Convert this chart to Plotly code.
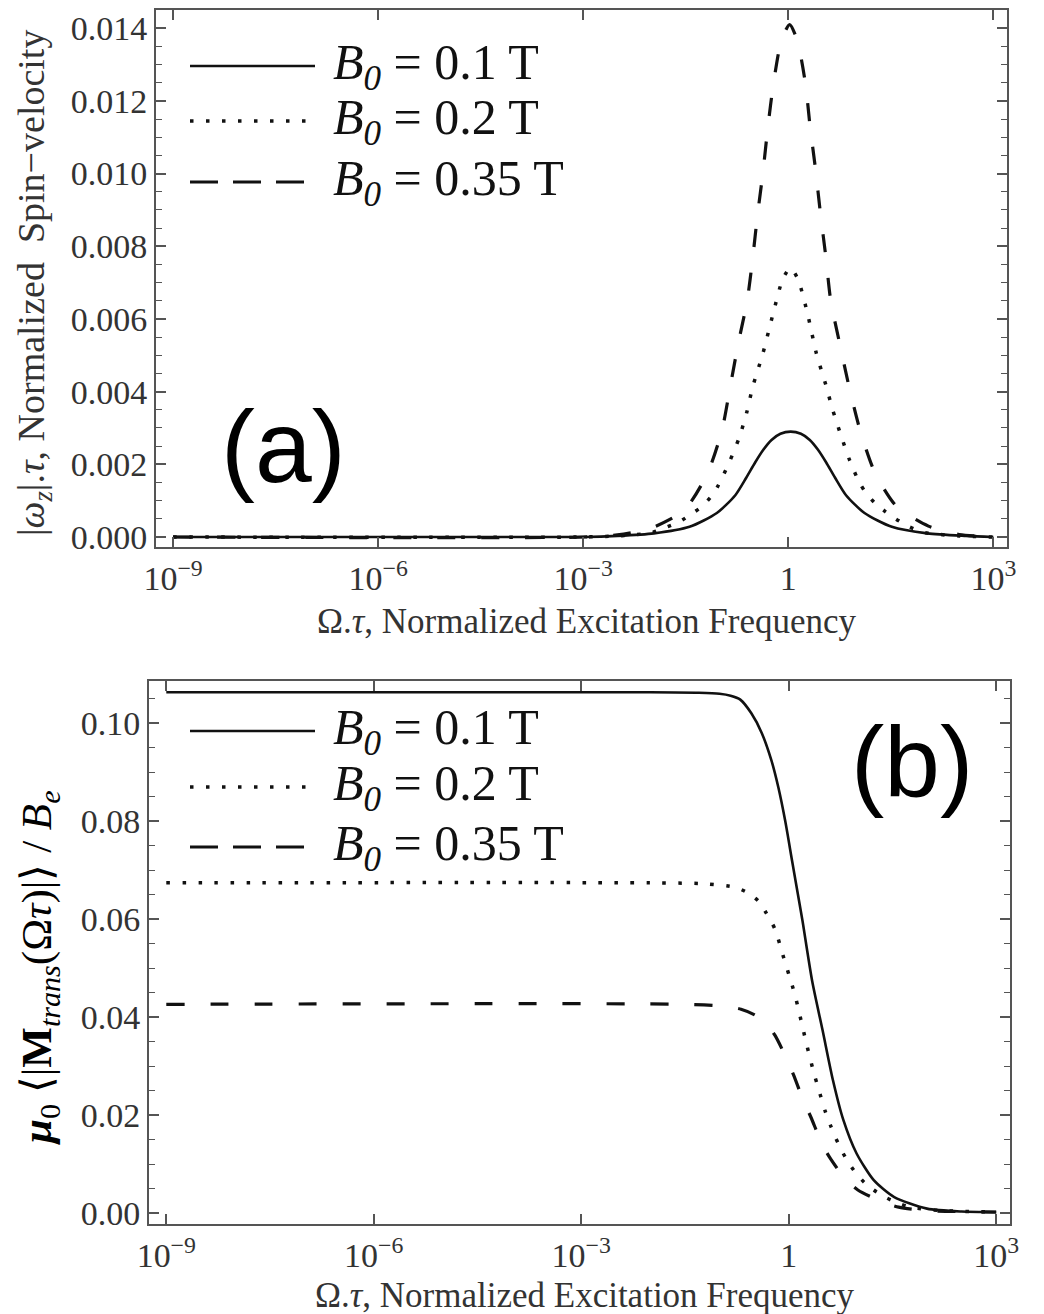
import plotly.graph_objects as go

# ---------------- data ----------------
# Panel (a): |omega_z|.tau vs Omega.tau  (x given as log10(Omega.tau))
a_solid_logx = [-9, -3, -2.5, -1.965, -1.445, -1.045, -0.775, -0.615, -0.485, -0.365, -0.245, -0.115, 0.035, 0.185, 0.315, 0.435, 0.555, 0.685, 0.845, 1.115, 1.515, 2.035, 2.6, 3]
a_solid_y = [0, 0, 0.00003, 0.0001, 0.00028, 0.00066, 0.00115, 0.00163, 0.00205, 0.0024, 0.00267, 0.00284, 0.0029, 0.00284, 0.00267, 0.0024, 0.00205, 0.00163, 0.00115, 0.00066, 0.00028, 0.0001, 0.00003, 0]

a_dot_logx = [-9, -3, -2.5, -2.0, -1.77, -1.59, -1.42, -1.27, -1.13, -1.03, -0.95, -0.86, -0.72, -0.61, -0.52, -0.37, -0.22, -0.08, 0.03, 0.14, 0.28, 0.41, 0.55, 0.65, 0.77, 0.9, 1.04, 1.14, 1.27, 1.42, 1.57, 1.77, 2.0, 2.5, 3]
a_dot_y = [0, 0, 0.00003, 0.00012, 0.00028, 0.00042, 0.00063, 0.00083, 0.00111, 0.0014, 0.0017, 0.00207, 0.00272, 0.00341, 0.00413, 0.00506, 0.00616, 0.0071, 0.0074, 0.0071, 0.00616, 0.00506, 0.00418, 0.0035, 0.0028, 0.0021, 0.0015, 0.0012, 0.00093, 0.0007, 0.0005, 0.00028, 0.00012, 0.00003, 0]

a_dash_logx = [-9, -3, -2.5, -2.0, -1.52, -1.18, -0.97, -0.85, -0.73, -0.6, -0.52, -0.45, -0.37, -0.30, -0.22, -0.1, 0.02, 0.13, 0.25, 0.32, 0.4, 0.47, 0.55, 0.62, 0.75, 0.89, 1.05, 1.27, 1.58, 2.05, 2.5, 3]
a_dash_y = [0, 0, 0.00006, 0.00025, 0.00074, 0.00176, 0.00294, 0.00413, 0.00534, 0.00652, 0.00768, 0.00886, 0.01004, 0.01125, 0.01243, 0.01367, 0.0141, 0.01367, 0.01249, 0.01128, 0.0101, 0.00891, 0.0077, 0.00652, 0.00534, 0.00413, 0.00294, 0.00176, 0.00085, 0.0003, 0.00007, 0]

# Panel (b): mu0 <|M_trans|>/B_e vs Omega.tau
b_solid_logx = [-9, -2, -1.3, -1.0, -0.84, -0.7, -0.54, -0.39, -0.25, -0.15, -0.05, 0.05, 0.15, 0.2, 0.34, 0.49, 0.64, 0.79, 0.98, 1.23, 1.52, 2.0, 2.5, 3]
b_solid_y = [0.1063, 0.1063, 0.1062, 0.106, 0.1056, 0.1048, 0.102, 0.098, 0.0924, 0.0869, 0.080, 0.0718, 0.0637, 0.0596, 0.0473, 0.0373, 0.0271, 0.019, 0.0122, 0.0067, 0.0033, 0.0009, 0.0003, 0.0002]

b_dot_logx = [-9, -2, -1.2, -0.78, -0.61, -0.44, -0.34, -0.2, -0.07, 0.05, 0.1, 0.2, 0.27, 0.37, 0.43, 0.53, 0.61, 0.68, 0.76, 0.86, 0.97, 1.09, 1.23, 1.4, 1.57, 1.76, 2.2, 3]
b_dot_y = [0.0674, 0.0674, 0.0672, 0.0665, 0.0655, 0.0637, 0.0616, 0.058, 0.052, 0.0465, 0.0440, 0.0380, 0.0338, 0.0283, 0.0254, 0.0207, 0.0177, 0.0153, 0.0129, 0.0104, 0.0082, 0.0063, 0.0047, 0.0032, 0.0021, 0.0012, 0.0005, 0.0002]

b_dash_logx = [-9, -1.5, -0.93, -0.69, -0.5, -0.34, -0.2, -0.02, 0.07, 0.22, 0.32, 0.47, 0.59, 0.81, 1.0, 1.37, 1.59, 2.0, 3]
b_dash_y = [0.0426, 0.0426, 0.0422, 0.0416, 0.0405, 0.039, 0.0363, 0.0312, 0.0282, 0.0227, 0.0196, 0.0145, 0.0114, 0.0071, 0.0047, 0.0022, 0.0012, 0.0005, 0.0002]

series_labels = ["<i>B<sub>0</sub></i> = 0.1 T", "<i>B<sub>0</sub></i> = 0.2 T", "<i>B<sub>0</sub></i> = 0.35 T"]

x_tickvals = [1e-9, 1e-6, 1e-3, 1, 1e3]
x_ticktext = ["10<sup>−9</sup>", "10<sup>−6</sup>", "10<sup>−3</sup>", "1", "10<sup>3</sup>"]

# ---------------- styling ----------------
W, H = 1044, 1314
LINE = "#111111"
AXC = "#555555"
TXT = "#333333"
SERIF = "Liberation Serif, Times New Roman, serif"
SANS = "Liberation Sans, Arial, sans-serif"

styles = [
    dict(dash="solid", width=2.6),
    dict(dash="3.5px,12.5px", width=3.5),
    dict(dash="18px,26px", width=3.2),
]
legend_dash = ["solid", "3.5px,12.5px", "28px,15px"]


def tolin(v):
    return [10 ** t for t in v]


fig = go.Figure()

a_sets = [(a_solid_logx, a_solid_y), (a_dot_logx, a_dot_y), (a_dash_logx, a_dash_y)]
b_sets = [(b_solid_logx, b_solid_y), (b_dot_logx, b_dot_y), (b_dash_logx, b_dash_y)]

for (lx, y), st, lab in zip(a_sets, styles, series_labels):
    fig.add_trace(go.Scatter(x=tolin(lx), y=y, mode="lines", name=lab,
                             line=dict(color=LINE, width=st["width"], dash=st["dash"], shape="spline", smoothing=0.7),
                             xaxis="x", yaxis="y", showlegend=False))
for (lx, y), st, lab in zip(b_sets, styles, series_labels):
    fig.add_trace(go.Scatter(x=tolin(lx), y=y, mode="lines", name=lab,
                             line=dict(color=LINE, width=st["width"], dash=st["dash"], shape="spline", smoothing=0.7),
                             xaxis="x2", yaxis="y2", showlegend=False))


def xd(l, r):
    return [l / W, r / W]


def yd(top, bot):
    return [1 - bot / H, 1 - top / H]


xaxis_common = dict(type="log", range=[-9.25, 3.2], tickvals=x_tickvals, ticktext=x_ticktext,
                    ticks="inside", ticklen=10, tickwidth=1.5, tickcolor=AXC,
                    showline=True, linecolor=AXC, linewidth=2, mirror="ticks",
                    showgrid=False, zeroline=False,
                    tickfont=dict(family=SERIF, size=34, color=TXT), automargin=False)

yaxis_common = dict(ticks="inside", ticklen=10, tickwidth=1.5, tickcolor=AXC,
                    showline=True, linecolor=AXC, linewidth=2, mirror="ticks",
                    showgrid=False, zeroline=False,
                    tickfont=dict(family=SERIF, size=34, color=TXT), automargin=False)

fig.update_layout(
    width=W, height=H,
    margin=dict(l=0, r=0, t=0, b=0),
    paper_bgcolor="white", plot_bgcolor="white",
    showlegend=False,
    xaxis=dict(domain=xd(156, 1007), anchor="y", **xaxis_common),
    yaxis=dict(domain=yd(10, 547), anchor="x", range=[-0.000275, 0.0145],
               tickvals=[0, 0.002, 0.004, 0.006, 0.008, 0.010, 0.012, 0.014], tickformat=".3f",
               minor=dict(dtick=0.0005, ticks="inside", ticklen=6, tickcolor=AXC, tickwidth=1.2),
               **yaxis_common),
    xaxis2=dict(domain=xd(149, 1010), anchor="y2", **xaxis_common),
    yaxis2=dict(domain=yd(681, 1224), anchor="x2", range=[-0.00224, 0.1086],
                tickvals=[0, 0.02, 0.04, 0.06, 0.08, 0.10], tickformat=".2f",
                minor=dict(dtick=0.005, ticks="inside", ticklen=6, tickcolor=AXC, tickwidth=1.2),
                **yaxis_common),
)


def add_legend(xref, yref, x0, x1, xt, ys):
    for yy, ds, st, lab in zip(ys, legend_dash, styles, series_labels):
        fig.add_shape(type="line", xref=xref, yref=yref, x0=x0, x1=x1, y0=yy, y1=yy,
                      line=dict(color=LINE, width=st["width"], dash=ds))
        fig.add_annotation(xref=xref, yref=yref, x=xt, y=yy, text=lab, showarrow=False,
                           xanchor="left", yanchor="middle",
                           font=dict(family=SERIF, size=50, color=LINE))


add_legend("x domain", "y domain", (190 - 156) / 851, (315 - 156) / 851, (331 - 156) / 851,
           [1 - (66 - 10) / 537, 1 - (121 - 10) / 537, 1 - (182 - 10) / 537])
add_legend("x2 domain", "y2 domain", (190 - 149) / 861, (315 - 149) / 861, (331 - 149) / 861,
           [1 - (731 - 681) / 543, 1 - (787 - 681) / 543, 1 - (847 - 681) / 543])

# panel letters
fig.add_annotation(xref="paper", yref="paper", x=283 / W, y=1 - 447 / H, text="(a)", showarrow=False,
                   xanchor="center", yanchor="middle", font=dict(family=SANS, size=102, color="black"))
fig.add_annotation(xref="paper", yref="paper", x=912 / W, y=1 - 762 / H, text="(b)", showarrow=False,
                   xanchor="center", yanchor="middle", font=dict(family=SANS, size=100, color="black"))

# axis titles
xtitle = "Ω.<i>τ</i>, Normalized Excitation Frequency"
fig.add_annotation(xref="paper", yref="paper", x=587 / W, y=1 - 622 / H, text=xtitle, showarrow=False,
                   xanchor="center", yanchor="middle", font=dict(family=SERIF, size=35, color=TXT))
fig.add_annotation(xref="paper", yref="paper", x=585 / W, y=1 - 1295 / H, text=xtitle, showarrow=False,
                   xanchor="center", yanchor="middle", font=dict(family=SERIF, size=35, color=TXT))

fig.add_annotation(xref="paper", yref="paper", x=34 / W, y=1 - 283 / H,
                   text="|<i>ω<sub>z</sub></i>|.<i>τ</i>, Normalized  Spin−velocity",
                   showarrow=False, textangle=-90, xanchor="center", yanchor="middle",
                   font=dict(family=SERIF, size=38, color=TXT))
fig.add_annotation(xref="paper", yref="paper", x=40 / W, y=1 - 968 / H,
                   text="<b><i>μ</i></b><sub>0</sub> ⟨|<b>M</b><sub><i>trans</i></sub>(Ω<i>τ</i>)|⟩ / <i>B<sub>e</sub></i>",
                   showarrow=False, textangle=-90, xanchor="center", yanchor="middle",
                   font=dict(family=SERIF, size=43, color="black"))

fig.write_html("out.html")
